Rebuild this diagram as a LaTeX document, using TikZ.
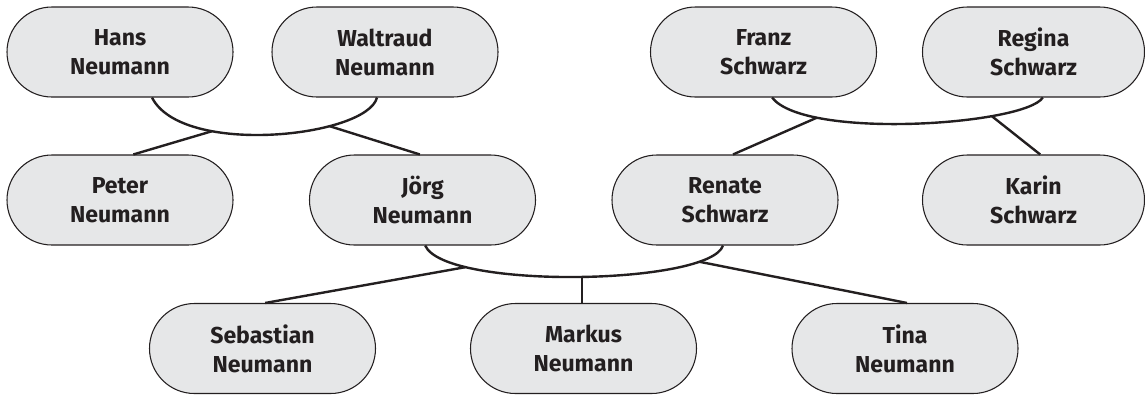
\documentclass[tikz,border=0pt]{standalone}
\usepackage{fontspec}
\setmainfont{Fira Sans}
\definecolor{boxfill}{HTML}{E6E7E8}
\definecolor{ink}{HTML}{231F20}
\tikzset{
  person/.style={rectangle, draw=ink, fill=boxfill, line width=0.8pt,
    minimum width=169.5pt, minimum height=67.5pt, rounded corners=33.7pt,
    inner sep=0pt, align=center, text=ink,
    font=\fontsize{17.3pt}{21.8pt}\selectfont\bfseries},
  personr/.style={person, minimum width=166.5pt},
  link/.style={draw=ink, line width=1.8pt},
}
\begin{document}
\begin{tikzpicture}[x=0.75pt,y=-0.75pt]
\useasboundingbox (0,0) rectangle (1145,394);
% top row
\node[person] (hans) at (120,52) {Hans\\Neumann};
\node[person] (walt) at (385,52) {Waltraud\\Neumann};
\node[person] (franz) at (763.5,52) {Franz\\Schwarz};
\node[personr] (regina) at (1033.5,52) {Regina\\Schwarz};
% middle row
\node[person] (peter) at (120,200) {Peter\\Neumann};
\node[person] (joerg) at (422.5,200) {Jörg\\Neumann};
\node[person] (renate) at (725,200) {Renate\\Schwarz};
\node[personr] (karin) at (1033.5,200) {Karin\\Schwarz};
% bottom row
\node[person] (seb) at (262.5,348.5) {Sebastian\\Neumann};
\node[person] (markus) at (583.5,348.5) {Markus\\Neumann};
\node[person] (tina) at (905,348.5) {Tina\\Neumann};

% marriage Hans - Waltraud
\draw[link] ([xshift=24pt]hans.south) .. controls (182,157) and (367,137) .. ([xshift=-6pt]walt.south)
  coordinate[pos=0.3] (hw1) coordinate[pos=0.7] (hw2);
\draw[link] (hw1) -- ([xshift=10pt]peter.north);
\draw[link] (hw2) -- ([xshift=-2pt]joerg.north);

% marriage Franz - Regina
\draw[link] ([xshift=6.4pt]franz.south) .. controls (805,140) and (1025,125) .. ([xshift=7pt]regina.south)
  coordinate[pos=0.22] (fr1) coordinate[pos=0.73] (fr2);
\draw[link] (fr1) -- ([xshift=6pt]renate.north);
\draw[link] (fr2) -- ([xshift=5pt]karin.north);

% marriage Jörg - Renate
\draw[link] ([xshift=2pt]joerg.south) .. controls (445,290) and (710,285) .. ([xshift=-1.5pt]renate.south)
  coordinate[pos=0.21] (jr1) coordinate[pos=0.52] (jr2) coordinate[pos=0.84] (jr3);
\draw[link] (jr1) -- ([xshift=2pt]seb.north);
\draw[link] ([xshift=-1pt]markus.north) -- ([xshift=-1pt]markus.north |- jr2);
\draw[link] (jr3) -- ([xshift=1.5pt]tina.north);
\end{tikzpicture}
\end{document}
